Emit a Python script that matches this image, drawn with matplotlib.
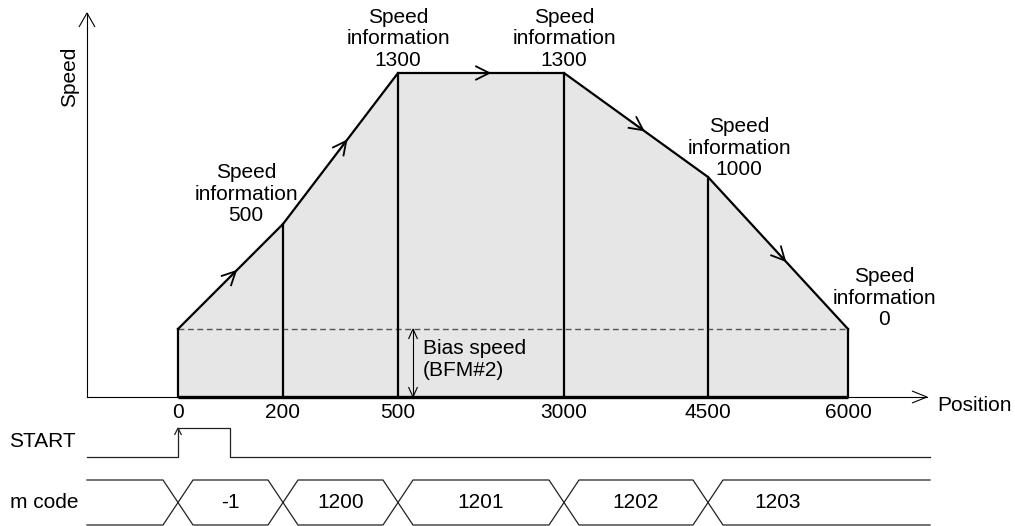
import numpy as np
import matplotlib
matplotlib.use("Agg")
import matplotlib.pyplot as plt

plt.rcParams['font.family'] = ['Liberation Sans', 'DejaVu Sans']

# ---- positioning data -------------------------------------------------
positions = [0, 200, 500, 3000, 4500, 6000]
tick_labels = ['0', '200', '500', '3000', '4500', '6000']
speed_info = [0, 500, 1300, 1300, 1000, 0]       # 0 -> runs at bias speed
m_codes = ['-1', '1200', '1201', '1202', '1203']

# ---- schematic layout (canvas pixels, y grows downward) --------------
W, H = 1015, 526
slot_x = [178, 283, 398, 564, 708, 848]          # where each position sits
speed_levels = [0, 500, 1000, 1300]
level_y = [329, 224, 177, 73]                    # drawn height of each speed
AXIS_X, BASE_Y = 87, 397
AXIS_TOP, AXIS_RIGHT = 13, 927
# label offsets (dx, dy of last baseline) relative to each profile point
label_offsets = [None, (-37, -3), (0, -7), (0, -7), (31, -2), (36, -4)]
FS = 15
LINE_H = 21.5


def px(pos):
    return np.interp(pos, positions, slot_x)


def py(speed):
    return np.interp(speed, speed_levels, level_y)


def chevron(ax, tip, direction, length, half, **kw):
    d = np.asarray(direction, float)
    d = d / np.hypot(*d)
    n = np.array([-d[1], d[0]])
    tip = np.asarray(tip, float)
    base = tip - d * length
    pts = np.array([base + n * half, tip, base - n * half])
    ax.plot(pts[:, 0], pts[:, 1], solid_joinstyle='miter',
            solid_capstyle='butt', **kw)


fig = plt.figure(figsize=(W / 100, H / 100), dpi=100)
ax = fig.add_axes([0, 0, 1, 1])
ax.set_xlim(0, W)
ax.set_ylim(H, 0)
ax.axis('off')

xs = px(positions)
ys = py(speed_info)

# shaded travel area
poly_x = np.concatenate([[xs[0]], xs, [xs[-1]]])
poly_y = np.concatenate([[BASE_Y], ys, [BASE_Y]])
ax.fill(poly_x, poly_y, color='#e6e6e6', lw=0, zorder=1)

# bias speed level
ax.plot([xs[0], xs[-1]], [py(0), py(0)], color='#555555', lw=1.0,
        dashes=(4.2, 2.6), zorder=2)

# speed profile
ax.plot(xs, ys, color='black', lw=1.6, solid_joinstyle='miter', zorder=4)
for x, y in zip(xs, ys):
    ax.plot([x, x], [BASE_Y, y], color='black', lw=1.6, zorder=4)
ax.plot([xs[0], xs[-1]], [BASE_Y, BASE_Y], color='black', lw=2.4,
        solid_capstyle='butt', zorder=4)

# direction arrows along the profile
for i in range(len(xs) - 1):
    p0 = np.array([xs[i], ys[i]])
    p1 = np.array([xs[i + 1], ys[i + 1]])
    tip = p0 + 0.55 * (p1 - p0)
    chevron(ax, tip, p1 - p0, 14, 7, color='black', lw=1.3, zorder=5)

# axes with open arrow heads
ax.plot([AXIS_X, AXIS_RIGHT], [BASE_Y, BASE_Y], color='black', lw=0.8, zorder=3)
ax.plot([AXIS_X, AXIS_X], [BASE_Y, AXIS_TOP], color='black', lw=0.8, zorder=3)
chevron(ax, (AXIS_X, AXIS_TOP), (0, -1), 14, 8, color='black', lw=0.8)
chevron(ax, (AXIS_RIGHT, BASE_Y), (1, 0), 15, 6, color='black', lw=0.8)

ax.text(75, 77, 'Speed', rotation=90, rotation_mode='anchor', ha='center',
        va='baseline', fontsize=FS)
ax.text(937, 411, 'Position', ha='left', va='baseline', fontsize=FS)

for x, lab in zip(xs, tick_labels):
    ax.text(x, 418, lab, ha='center', va='baseline', fontsize=FS)

# speed information labels
for x, y, v, off in zip(xs, ys, speed_info, label_offsets):
    if off is None:
        continue
    cx, by = x + off[0], y + off[1]
    for k, line in enumerate(['Speed', 'information', str(v)]):
        ax.text(cx, by - (2 - k) * LINE_H, line, ha='center',
                va='baseline', fontsize=FS)

# bias speed dimension
bx = xs[2] + 15
ax.plot([bx, bx], [py(0), BASE_Y], color='black', lw=0.8)
chevron(ax, (bx, py(0)), (0, -1), 10, 4.5, color='black', lw=0.8)
chevron(ax, (bx, BASE_Y), (0, 1), 10, 4.5, color='black', lw=0.8)
ax.text(bx + 10, 354, 'Bias speed', ha='left', va='baseline', fontsize=FS)
ax.text(bx + 10, 354 + LINE_H, '(BFM#2)', ha='left', va='baseline', fontsize=FS)

# ---- START signal ------------------------------------------------------
LINE_END = 930
st_hi, st_lo = 428, 457
fall = (xs[0] + xs[1]) / 2
ax.plot([AXIS_X, xs[0], xs[0], fall, fall, LINE_END],
        [st_lo, st_lo, st_hi, st_hi, st_lo, st_lo], color='#222222', lw=0.9)
chevron(ax, (xs[0], st_hi), (0, -1), 7, 3.5, color='#222222', lw=0.9)
ax.text(9, 447, 'START', ha='left', va='baseline', fontsize=FS)

# ---- m code bus --------------------------------------------------------
mc_top, mc_bot = 480, 525
hw = 15
edges = xs[:len(m_codes)]
top_x = [AXIS_X]
top_y = [mc_top]
bot_x = [AXIS_X]
bot_y = [mc_bot]
for e in edges:
    top_x += [e - hw, e + hw]
    top_y += [mc_top, mc_bot]
    bot_x += [e - hw, e + hw]
    bot_y += [mc_bot, mc_top]
    # continue each trace on the opposite rail after the crossing
    top_x, bot_x = bot_x, top_x
    top_y, bot_y = bot_y, top_y
top_x.append(LINE_END)
top_y.append(top_y[-1])
bot_x.append(LINE_END)
bot_y.append(bot_y[-1])
ax.plot(top_x, top_y, color='#222222', lw=0.9)
ax.plot(bot_x, bot_y, color='#222222', lw=0.9)
ax.text(10, 508, 'm code', ha='left', va='baseline', fontsize=FS)
for i, code in enumerate(m_codes):
    cx = (xs[i] + xs[i + 1]) / 2
    ax.text(cx, 508, code, ha='center', va='baseline', fontsize=FS)

fig.savefig('out.png', dpi=100)
